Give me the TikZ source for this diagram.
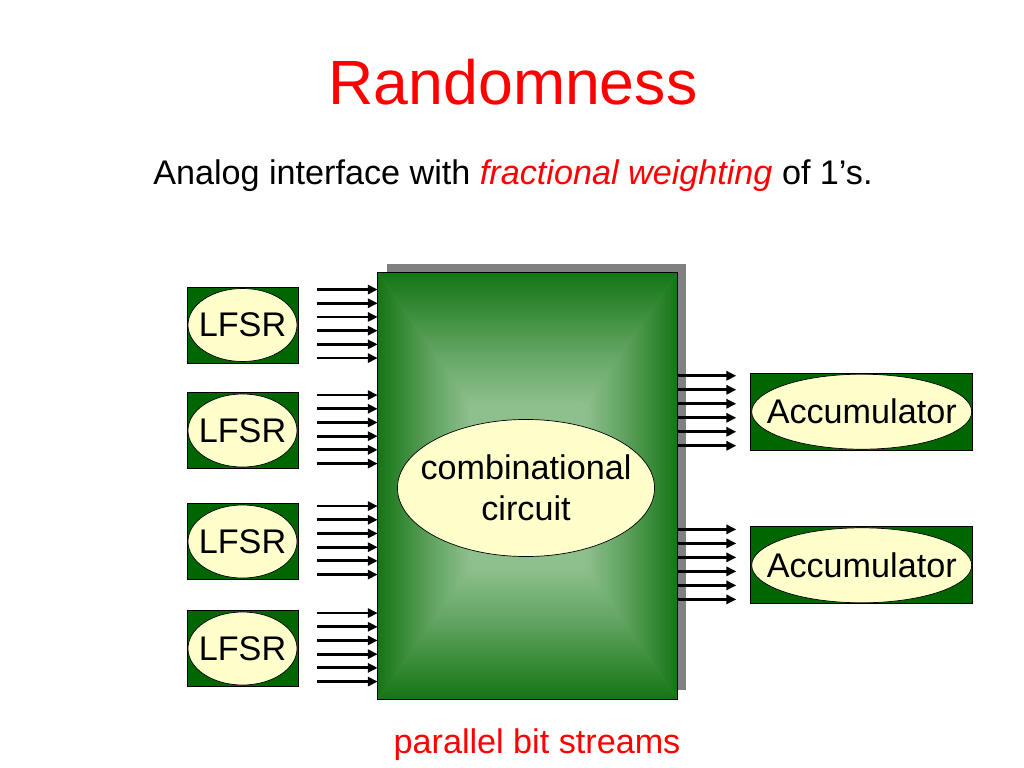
\documentclass[tikz,border=0pt]{standalone}
\usepackage{fontspec}
\setmainfont{Liberation Sans}
\usetikzlibrary{shapes.geometric,arrows.meta,calc}
\definecolor{slidered}{RGB}{255,0,0}
\definecolor{regfill}{RGB}{0,102,0}
\definecolor{boxedge}{RGB}{20,118,20}
\definecolor{boxdim}{RGB}{50,135,50}
\definecolor{boxmid}{RGB}{100,165,100}
\definecolor{boxglow}{RGB}{142,192,142}
\definecolor{padyellow}{RGB}{255,255,204}
\definecolor{shadowgray}{RGB}{128,128,128}
% glow of the circuit block, dark at the named side
\pgfdeclarehorizontalshading{glowleft}{100bp}{color(0bp)=(boxedge); color(25bp)=(boxedge); color(32bp)=(boxdim);
  color(44bp)=(boxmid); color(56bp)=(boxglow); color(100bp)=(boxglow)}
\pgfdeclarehorizontalshading{glowright}{100bp}{color(0bp)=(boxglow); color(44bp)=(boxglow); color(56bp)=(boxmid);
  color(68bp)=(boxdim); color(75bp)=(boxedge); color(100bp)=(boxedge)}
\pgfdeclareverticalshading{glowbottom}{100bp}{color(0bp)=(boxedge); color(25bp)=(boxedge); color(32bp)=(boxdim);
  color(44bp)=(boxmid); color(56bp)=(boxglow); color(100bp)=(boxglow)}
\pgfdeclareverticalshading{glowtop}{100bp}{color(0bp)=(boxglow); color(44bp)=(boxglow); color(56bp)=(boxmid);
  color(68bp)=(boxdim); color(75bp)=(boxedge); color(100bp)=(boxedge)}
\begin{document}
\begin{tikzpicture}[x=0.025cm,y=-0.025cm,
  every node/.style={font=\fontsize{24.3}{29}\selectfont},
  reg/.style={rectangle,draw,line width=0.6pt,fill=regfill,minimum width=2.775cm,minimum height=1.9cm,inner sep=0pt},
  acc/.style={reg,minimum width=5.55cm,minimum height=1.925cm},
  pad/.style={ellipse,draw,line width=0.5pt,fill=padyellow,inner sep=0pt},
  bus/.style={line width=2pt,-{Triangle[length=7pt,width=6.5pt]}}]
\useasboundingbox (0,0) rectangle (1024,768);

% the circuit block with its shadow and glow
\node[rectangle,minimum width=7.475cm,minimum height=10.65cm,inner sep=0pt] (main) at (527.5,486) {};
\fill[shadowgray] ($(main.north west)+(9,-9)$) rectangle ($(main.south east)+(9,-9)$);
\fill[boxmid] (main.north west) rectangle (main.south east);
\shade[shading=glowtop] (main.north west) -- (main.north east) -- (main.center) -- cycle;
\shade[shading=glowbottom] (main.south west) -- (main.south east) -- (main.center) -- cycle;
\shade[shading=glowleft] (main.north west) -- (main.center) -- (main.south west) -- cycle;
\shade[shading=glowright] (main.north east) -- (main.center) -- (main.south east) -- cycle;
\draw[line width=0.6pt] (main.north west) rectangle (main.south east);
\node[pad,minimum width=6.425cm,minimum height=3.425cm,
  label={[align=center]center:combinational\\circuit}] (comb) at (526,488) {};

% the four LFSRs and their bit streams
\foreach \n/\ypos in {1/325,2/430.5,3/541.5,4/648.5}{
  \node[reg] (lfsr\n) at (242.5,\ypos) {};
  \node[pad,minimum width=2.725cm,minimum height=1.825cm,label=center:LFSR] (lfsrpad\n) at (lfsr\n) {};
  \foreach \i in {0,...,5}{
    \coordinate (in\n\i) at ($(lfsr\n.north east)+(19,3+13.7*\i)$);
    \draw[bus] (in\n\i) -- (in\n\i -| main.west);
  }
}

% the two accumulators
\foreach \n/\ypos in {1/411.7,2/565.3}{
  \node[acc] (acc\n) at (861.7,\ypos) {};
  \node[pad,minimum width=5.5cm,minimum height=1.875cm,label=center:Accumulator] (accpad\n) at (acc\n) {};
  \foreach \i in {0,...,5}{
    \coordinate (out\n\i) at ($(acc\n.north west)+(-14,3+14*\i)$);
    \draw[bus] (out\n\i -| main.east) -- (out\n\i);
  }
}

\node[anchor=base,text=slidered,font=\fontsize{44.5}{52}\selectfont] (title) at (513,105) {Randomness};
\node[anchor=base west,inner sep=0pt] (subtitle) at (153,185)
  {Analog interface with \textcolor{slidered}{\itshape fractional weighting} of 1’s.};
\node[anchor=base,text=slidered] (caption) at (537,753) {parallel bit streams};
\end{tikzpicture}
\end{document}
